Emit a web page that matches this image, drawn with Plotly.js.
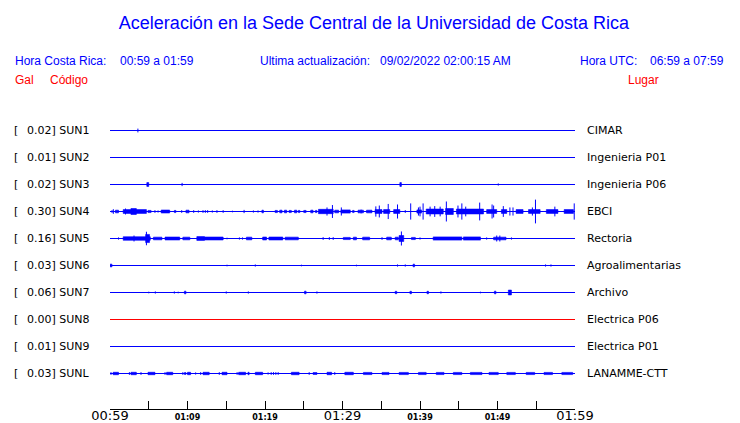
<!DOCTYPE html>
<html><head><meta charset="utf-8">
<script src="https://cdn.plot.ly/plotly-3.0.1.min.js"></script>
<style>html,body{margin:0;padding:0;background:#fff}#chart{width:740px;height:423px}</style>
</head><body><div id="chart"></div>
<script>
// ---- data ----
const codes  = ["SUN1","SUN2","SUN3","SUN4","SUN5","SUN6","SUN7","SUN8","SUN9","SUNL"];
const places = ["CIMAR","Ingenieria P01","Ingenieria P06","EBCI","Rectoria","Agroalimentarias","Archivo","Electrica P06","Electrica P01","LANAMME-CTT"];
const peaks  = ["0.02","0.01","0.02","0.30","0.16","0.03","0.06","0.00","0.01","0.03"];
const tickMinutes = [0,5,10,15,20,25,30,35,40,45,50,55,60];
const tickLabels  = ["00:59","","01:09","","01:19","","01:29","","01:39","","01:49","","01:59"];
const majorTicks  = ["00:59","01:29","01:59"];

// spikes: [minute after 00:59, half amplitude (station spacing = 1)]
const spikesSUN1 = [[3.6,0.07]];
const spikesSUN2 = [];
const spikesSUN3 = [[9.3,0.06],[50.1,0.04]];
const spikesSUN4 = [[0.26,0.05],[0.43,0.085],[2.0,0.11],[5.8,0.05],[6.2,0.04],[9.25,0.05],[10.8,0.05],[11.4,0.04],[12.0,0.05],[12.3,0.05],[12.6,0.05],[13.2,0.04],[13.8,0.05],[14.6,0.05],[15.8,0.03],[17.3,0.06],[18.5,0.04],[19.1,0.04],[28.0,0.15],[28.7,0.24],[29.85,0.15],[32.4,0.07],[34.3,0.19],[34.75,0.22],[35.9,0.28],[37.1,0.26],[38.1,0.05],[38.8,0.3],[39.8,0.15],[40.0,0.18],[40.4,0.3],[41.3,0.18],[41.9,0.2],[42.6,0.18],[43.4,0.37],[44.9,0.22],[45.4,0.3],[45.9,0.18],[47.7,0.33],[49.3,0.26],[49.5,0.22],[50.75,0.2],[51.6,0.15],[52.0,0.15],[54.5,0.15],[54.9,0.44],[57.4,0.18],[59.9,0.3]];
const spikesSUN5 = [[1.1,0.04],[3.1,0.11],[4.7,0.25],[15.1,0.03],[16.7,0.04],[17.1,0.04],[27.5,0.05],[28.3,0.05],[28.8,0.05],[35.1,0.05],[37.6,0.26],[40.0,0.04],[48.6,0.04],[49.9,0.11],[50.3,0.11],[51.8,0.04]];
const spikesSUN6 = [[15.1,0.03],[18.75,0.04],[24.7,0.03],[31.8,0.03],[37.1,0.04],[38.1,0.04],[56.2,0.04],[56.9,0.04]];
const spikesSUN7 = [[5.0,0.03],[5.85,0.04],[8.3,0.04],[8.8,0.03],[15.0,0.04],[17.85,0.04],[26.7,0.04],[42.7,0.04],[47.8,0.03]];
const spikesSUN8 = [];
const spikesSUN9 = [];
const spikesSUNL = [[0.13,0.05],[2.5,0.05],[4.0,0.05],[7.1,0.05],[9.4,0.05],[11.05,0.04],[11.7,0.05],[14.1,0.05],[16.4,0.05],[20.4,0.04],[20.8,0.05],[21.1,0.05],[21.4,0.05],[21.7,0.05],[25.7,0.05],[29.0,0.05]];

// bursts: [start minute, end minute, half amplitude]
const burstsSUN1 = [];
const burstsSUN2 = [];
const burstsSUN3 = [[4.75,5.0,0.07],[37.4,37.6,0.07]];
const burstsSUN4 = [[0.7,1.1,0.05],[1.7,4.7,0.07],[2.7,3.4,0.11],[4.9,5.3,0.04],[6.6,7.7,0.055],[8.3,8.5,0.04],[9.8,10.2,0.05],[19.6,19.8,0.05],[21.3,21.6,0.04],[21.9,22.2,0.05],[22.5,22.8,0.05],[23.1,23.4,0.04],[23.8,24.1,0.05],[24.3,24.5,0.04],[25.0,25.3,0.04],[25.9,26.2,0.05],[26.5,26.7,0.04],[26.9,28.8,0.08],[29.0,29.5,0.05],[29.8,31.0,0.06],[31.3,31.5,0.04],[32.0,32.7,0.05],[33.1,33.8,0.05],[34.2,35.1,0.07],[35.3,36.1,0.07],[36.6,37.4,0.07],[39.6,40.2,0.06],[40.8,43.0,0.09],[43.3,44.3,0.11],[44.7,48.2,0.09],[48.6,49.9,0.07],[50.5,51.2,0.07],[52.4,53.3,0.07],[54.0,55.5,0.07],[56.3,57.8,0.07],[58.6,59.8,0.07]];
const burstsSUN5 = [[1.7,5.2,0.065],[4.6,5.1,0.15],[5.6,6.7,0.05],[7.1,9.0,0.055],[9.4,10.3,0.05],[11.2,12.2,0.07],[12.2,14.6,0.055],[17.6,18.3,0.05],[19.7,20.2,0.055],[20.5,22.3,0.055],[22.6,24.3,0.05],[30.1,31.0,0.04],[31.4,31.8,0.05],[32.6,33.5,0.05],[35.7,36.3,0.05],[36.8,37.2,0.05],[37.3,37.9,0.11],[38.9,39.4,0.04],[41.7,45.4,0.06],[45.6,47.8,0.06],[49.5,51.1,0.05]];
const burstsSUN6 = [[0,0.26,0.05],[39.1,39.3,0.05]];
const burstsSUN7 = [[9.6,9.8,0.05],[25.1,25.3,0.05],[36.8,37.0,0.045],[38.7,38.9,0.045],[40.9,41.1,0.045],[49.6,49.8,0.05],[51.4,51.8,0.09]];
const burstsSUN8 = [];
const burstsSUN9 = [];
const burstsSUNL = [[0.4,1.1,0.045],[2.7,3.4,0.045],[4.9,5.8,0.045],[7.3,8.1,0.045],[9.6,9.8,0.035],[10.0,10.4,0.045],[12.0,12.8,0.045],[14.45,15.1,0.045],[16.6,17.5,0.045],[17.8,17.95,0.045],[18.75,19.7,0.045],[23.4,24.4,0.045],[26.2,26.7,0.035],[28.0,28.6,0.045],[30.3,31.4,0.045],[32.7,33.8,0.04],[35.1,36.0,0.04],[37.3,38.5,0.04],[39.8,40.8,0.04],[42.1,43.1,0.04],[44.3,45.4,0.04],[46.5,48.0,0.04],[48.9,50.1,0.04],[51.2,52.3,0.04],[53.7,54.8,0.04],[56.0,57.1,0.04],[58.3,59.7,0.04]];

const allSpikes = [spikesSUN1,spikesSUN2,spikesSUN3,spikesSUN4,spikesSUN5,spikesSUN6,spikesSUN7,spikesSUN8,spikesSUN9,spikesSUNL];
const allBursts = [burstsSUN1,burstsSUN2,burstsSUN3,burstsSUN4,burstsSUN5,burstsSUN6,burstsSUN7,burstsSUN8,burstsSUN9,burstsSUNL];

// ---- build ----
const BLUE = "#0000ff", RED = "#ff0000";
const traces = [];
codes.forEach((c, i) => {
  const col = c === "SUN8" ? RED : BLUE;
  const x = [0, 60, null], y = [i, i, null];
  allSpikes[i].forEach(([t, a]) => { x.push(t, t, null); y.push(i - a, i + a, null); });
  traces.push({type:"scatter", mode:"lines", x, y, line:{color:col, width:1}, hoverinfo:"skip", showlegend:false});
  if (allBursts[i].length) {
    const bx = [], by = [];
    allBursts[i].forEach(([t1, t2, a]) => {
      bx.push(t1, t2, t2, t1, t1, null);
      by.push(i - a, i - a, i + a, i + a, i - a, null);
    });
    traces.push({type:"scatter", mode:"lines", x:bx, y:by, fill:"toself", fillcolor:col,
      line:{color:col, width:0.6}, hoverinfo:"skip", showlegend:false});
  }
});

const L = 110, R = 575, T = 110, B = 409;
const px = v => (v - L) / (R - L);
const py = v => (B - v) / (B - T);
const hdr = "Liberation Sans, Arial, sans-serif";
const lab = "DejaVu Sans, sans-serif";
const ann = [];
function txt(text, x, y, color, size, family) {
  ann.push({text, x:px(x - 2), y:py(y), xref:"paper", yref:"paper", xanchor:"left", yanchor:"middle",
    showarrow:false, font:{family, size, color}});
}
txt("Hora Costa Rica:", 15, 61, BLUE, 12, hdr);
txt("00:59 a 01:59", 120, 61, BLUE, 12, hdr);
txt("Ultima actualización:", 260, 61, BLUE, 12, hdr);
txt("09/02/2022 02:00:15 AM", 380, 61, BLUE, 12, hdr);
txt("Hora UTC:", 580, 61, BLUE, 12, hdr);
txt("06:59 a 07:59", 650, 61, BLUE, 12, hdr);
txt("Gal", 15, 80, RED, 12, hdr);
txt("Código", 50, 80, RED, 12, hdr);
txt("Lugar", 628, 80, RED, 12, hdr);
codes.forEach((c, i) => {
  const yy = 130 + i * 27;
  txt("[", 14, yy, "#000", 11, lab);
  txt(peaks[i] + "] " + c, 27, yy, "#000", 11, lab);
  txt(places[i], 587, yy, "#000", 11, lab);
});

const tickText = tickLabels.map(s => s === "" ? "" :
  (majorTicks.includes(s) ? s : '<span style="font-size:8px;font-weight:bold">' + s + '</span>'));

const layout = {
  width:740, height:423,
  margin:{l:L, r:740-R, t:T, b:423-B, pad:0},
  paper_bgcolor:"#fff", plot_bgcolor:"#fff",
  title:{text:"Aceleración en la Sede Central de la Universidad de Costa Rica",
    font:{family:hdr, size:18, color:BLUE}, x:374/740, xanchor:"center", xref:"container",
    y:1-23/423, yanchor:"middle", yref:"container"},
  xaxis:{range:[0,60], tickmode:"array", tickvals:tickMinutes, ticktext:tickText,
    ticks:"inside", ticklen:8, tickwidth:1, tickcolor:"#000", showline:true, linecolor:"#000", linewidth:1,
    showgrid:false, zeroline:false, automargin:false, fixedrange:true, ticklabelstandoff:-6,
    tickfont:{family:lab, size:13, color:"#000"}},
  yaxis:{range:[9 + 35.5/27, -20.5/27], visible:false, showgrid:false, zeroline:false, fixedrange:true},
  annotations:ann,
  showlegend:false
};
Plotly.newPlot("chart", traces, layout, {displayModeBar:false, staticPlot:true});
</script></body></html>
